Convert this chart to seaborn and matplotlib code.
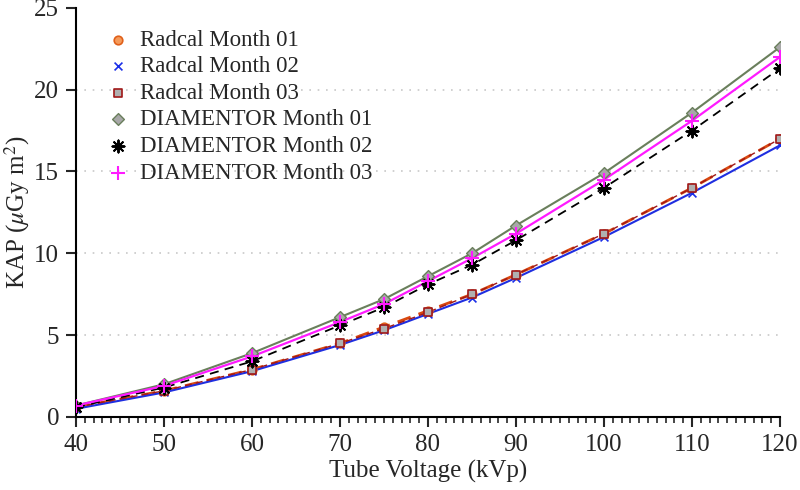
import numpy as np
import pandas as pd
import seaborn as sns
import matplotlib
matplotlib.use("Agg")
import matplotlib.pyplot as plt
from matplotlib.ticker import MultipleLocator

# data
kvp = [40, 50, 60, 70, 75, 80, 85, 90, 100, 110, 120]
radcal_m01 = [0.6, 1.6, 2.9, 4.5, 5.5, 6.5, 7.5, 8.7, 11.2, 14.0, 17.0]
radcal_m02 = [0.5, 1.5, 2.8, 4.4, 5.3, 6.3, 7.3, 8.5, 11.0, 13.7, 16.6]
radcal_m03 = [0.6, 1.6, 2.9, 4.5, 5.4, 6.4, 7.5, 8.7, 11.2, 14.0, 17.0]
diam_m01 = [0.7, 2.0, 3.9, 6.1, 7.2, 8.6, 10.0, 11.7, 14.9, 18.6, 22.6]
diam_m02 = [0.6, 1.8, 3.4, 5.6, 6.7, 8.1, 9.3, 10.8, 14.0, 17.5, 21.3]
diam_m03 = [0.7, 1.9, 3.7, 5.8, 6.9, 8.3, 9.7, 11.2, 14.5, 18.1, 22.0]

series = {
    "Radcal Month 01": radcal_m01,
    "Radcal Month 02": radcal_m02,
    "Radcal Month 03": radcal_m03,
    "DIAMENTOR Month 01": diam_m01,
    "DIAMENTOR Month 02": diam_m02,
    "DIAMENTOR Month 03": diam_m03,
}
df = pd.DataFrame([
    {"kVp": x, "KAP": y, "Series": name}
    for name, vals in series.items() for x, y in zip(kvp, vals)
])

# line style, marker style per series
line_style = {
    "Radcal Month 01": dict(color="#d9480f", ls=(0, (5, 3)), lw=2.0),
    "Radcal Month 02": dict(color="#1f2ee0", ls="-", lw=1.5),
    "Radcal Month 03": dict(color="#a01818", ls=(0, (5, 3)), lw=1.0),
    "DIAMENTOR Month 01": dict(color="#6a7f5c", ls="-", lw=1.5),
    "DIAMENTOR Month 02": dict(color="black", ls=(0, (5, 3.5)), lw=1.3),
    "DIAMENTOR Month 03": dict(color="#ff1aff", ls="-", lw=1.6),
}
marker_style = {
    "Radcal Month 01": dict(marker="o", s=38, facecolor="#f59a5a", edgecolor="#e0601a", linewidth=1.2),
    "Radcal Month 02": dict(marker="x", s=32, color="#1a2ee8", linewidth=1.2),
    "Radcal Month 03": dict(marker="s", s=30, facecolor="#b0b0b0", edgecolor="#a01818", linewidth=1.2),
    "DIAMENTOR Month 01": dict(marker="D", s=36, facecolor="#a8a8a8", edgecolor="#6a7f5c", linewidth=1.0),
    "DIAMENTOR Month 02": dict(marker=(8, 2, 0), s=75, color="black", linewidth=1.4),
    "DIAMENTOR Month 03": dict(marker="+", s=90, color="#ff1aff", linewidth=1.5),
}

sns.set_style("white")
plt.rcParams["font.family"] = ["Liberation Serif", "DejaVu Serif"]
plt.rcParams["mathtext.fontset"] = "stix"

fig = plt.figure(figsize=(8, 4.9), dpi=100)
ax = fig.add_axes([0.095, 0.149, 0.880, 0.835])

for name in series:
    sub = df[df["Series"] == name]
    st = line_style[name]
    sns.lineplot(data=sub, x="kVp", y="KAP", ax=ax, color=st["color"],
                 linestyle=st["ls"], linewidth=st["lw"], legend=False, zorder=2)

for name in series:
    sub = df[df["Series"] == name]
    ax.scatter(sub["kVp"], sub["KAP"], label=name, zorder=3, **marker_style[name])

ax.set_xlim(40, 120)
ax.set_ylim(0, 25)
ax.xaxis.set_major_locator(MultipleLocator(10))
ax.xaxis.set_minor_locator(MultipleLocator(1))
ax.yaxis.set_major_locator(MultipleLocator(5))

for y in [5, 10, 15, 20]:
    ax.axhline(y, color="#c8c8c8", ls=(0, (1, 4)), lw=1.2, zorder=1)

ax.spines["top"].set_visible(False)
ax.spines["right"].set_visible(False)
for sp in ["left", "bottom"]:
    ax.spines[sp].set_linewidth(1.5)
    ax.spines[sp].set_color("black")

ax.tick_params(axis="both", which="major", direction="out", length=7, width=1.5,
               labelsize=18, bottom=True, left=True, pad=5)
ax.tick_params(axis="x", which="minor", direction="out", length=4, width=1.2, bottom=True)

ax.set_xlabel("Tube Voltage (kVp)", fontsize=18, labelpad=3)
ax.set_ylabel(r"KAP ($\mu$Gy m$^2$)", fontsize=18, labelpad=2)

ax.legend(loc="upper left", bbox_to_anchor=(0.02, 0.98), frameon=False,
          fontsize=16.5, handletextpad=0.4, labelspacing=0.24, borderaxespad=0.2,
          scatterpoints=1, handlelength=1.2)

fig.savefig("out.png", dpi=100)
